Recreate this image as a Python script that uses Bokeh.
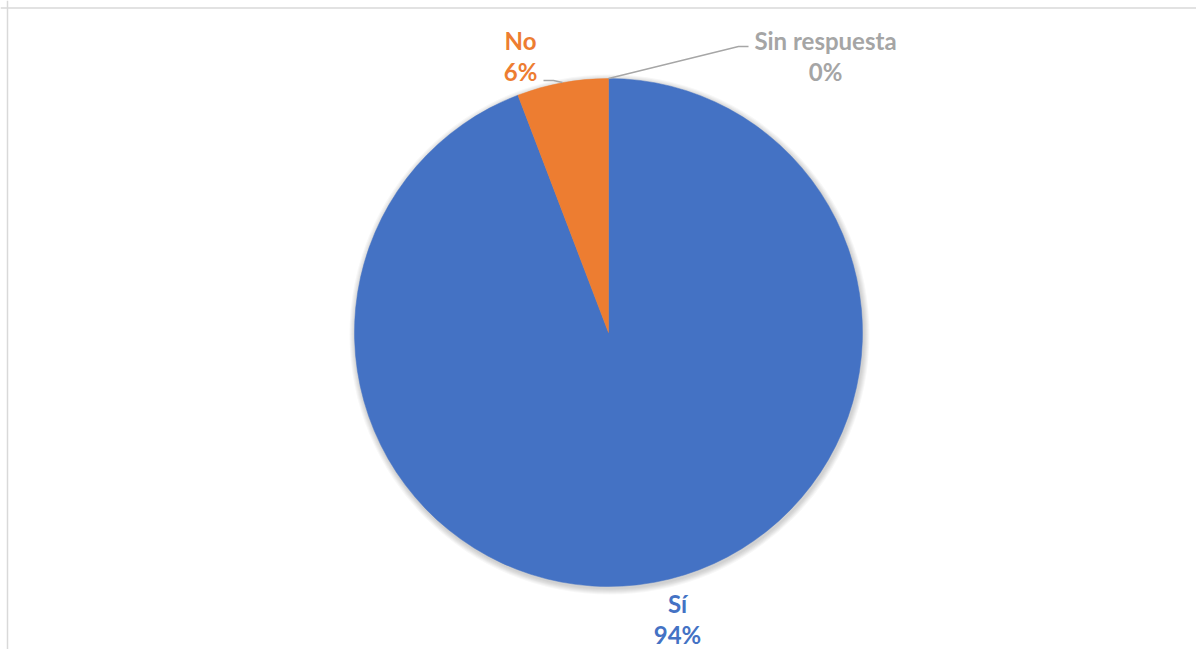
import math
from bokeh.plotting import figure
from bokeh.models import Range1d, ColumnDataSource, Span
from bokeh.core.properties import value
from bokeh.embed import file_html
from bokeh.resources import INLINE

# ---- data ----
categories = ["Sí", "No", "Sin respuesta"]
shares = [94.2, 5.8, 0.0]
pct_labels = ["94%", "6%", "0%"]
colors = ["#4472C4", "#ED7D31", "#A5A5A5"]

# ---- layout (pixel-like coordinates, y up) ----
W, H = 1196, 649
cx, cy, R = 608, 317, 254
label_pos = {"Sí": (677, 46), "No": (520, 609), "Sin respuesta": (825, 609)}
line_gap = 31

p = figure(width=W, height=H, output_backend="svg", toolbar_location=None,
           x_range=Range1d(0, W), y_range=Range1d(0, H), min_border=0,
           outline_line_color=None)
p.axis.visible = False
p.grid.visible = False
p.background_fill_color = "white"

# soft shadow behind the pie
for k in range(1, 7):
    p.circle(x=[cx + 1], y=[cy - 2], radius=R + k, fill_color="black",
             fill_alpha=0.03, line_color=None)

# wedge angles: start at 12 o'clock, clockwise
total = sum(shares)
starts, ends, cats, cols = [], [], [], []
a = math.pi / 2
for c, s, col in zip(categories, shares, colors):
    b = a - s / total * 2 * math.pi
    if s > 0:
        starts.append(a); ends.append(b); cats.append(c); cols.append(col)
    a = b

src = ColumnDataSource(dict(cat=cats, start=starts, end=ends, color=cols,
                            x=[cx] * len(cats), y=[cy] * len(cats)))
p.wedge(x="x", y="y", radius=R, start_angle="start", end_angle="end",
        direction="clock", fill_color="color", line_color="color", line_width=0.5,
        source=src)

# leader lines
p.line(x=[543, 553, 562], y=[H - 80, H - 80, H - 82], line_color="#A6A6A6", line_width=1.3)
p.line(x=[cx, 738, 748], y=[H - 78, H - 46, H - 46], line_color="#A6A6A6", line_width=1.3)

# labels
lx, ly1, ly2, lt1, lt2, lc = [], [], [], [], [], []
for c, pl, col in zip(categories, pct_labels, colors):
    x, y = label_pos[c]
    lx.append(x); ly1.append(y); ly2.append(y - line_gap)
    lt1.append(c); lt2.append(pl); lc.append(col)
lsrc = ColumnDataSource(dict(x=lx, y1=ly1, y2=ly2, t1=lt1, t2=lt2, c=lc))
for yk, tk in (("y1", "t1"), ("y2", "t2")):
    p.text(x="x", y=yk, text=tk, source=lsrc, text_color="c",
           text_font=value("Lato"), text_font_style="bold", text_font_size="24px",
           text_align="center", text_baseline="middle")

# chart border (top and left edges visible)
p.add_layout(Span(location=H - 7.5, dimension="width", line_color="#D9D9D9", line_width=1.5))
p.add_layout(Span(location=7, dimension="height", line_color="#D9D9D9", line_width=1.5))

open("out.html", "w").write(file_html(p, INLINE))
